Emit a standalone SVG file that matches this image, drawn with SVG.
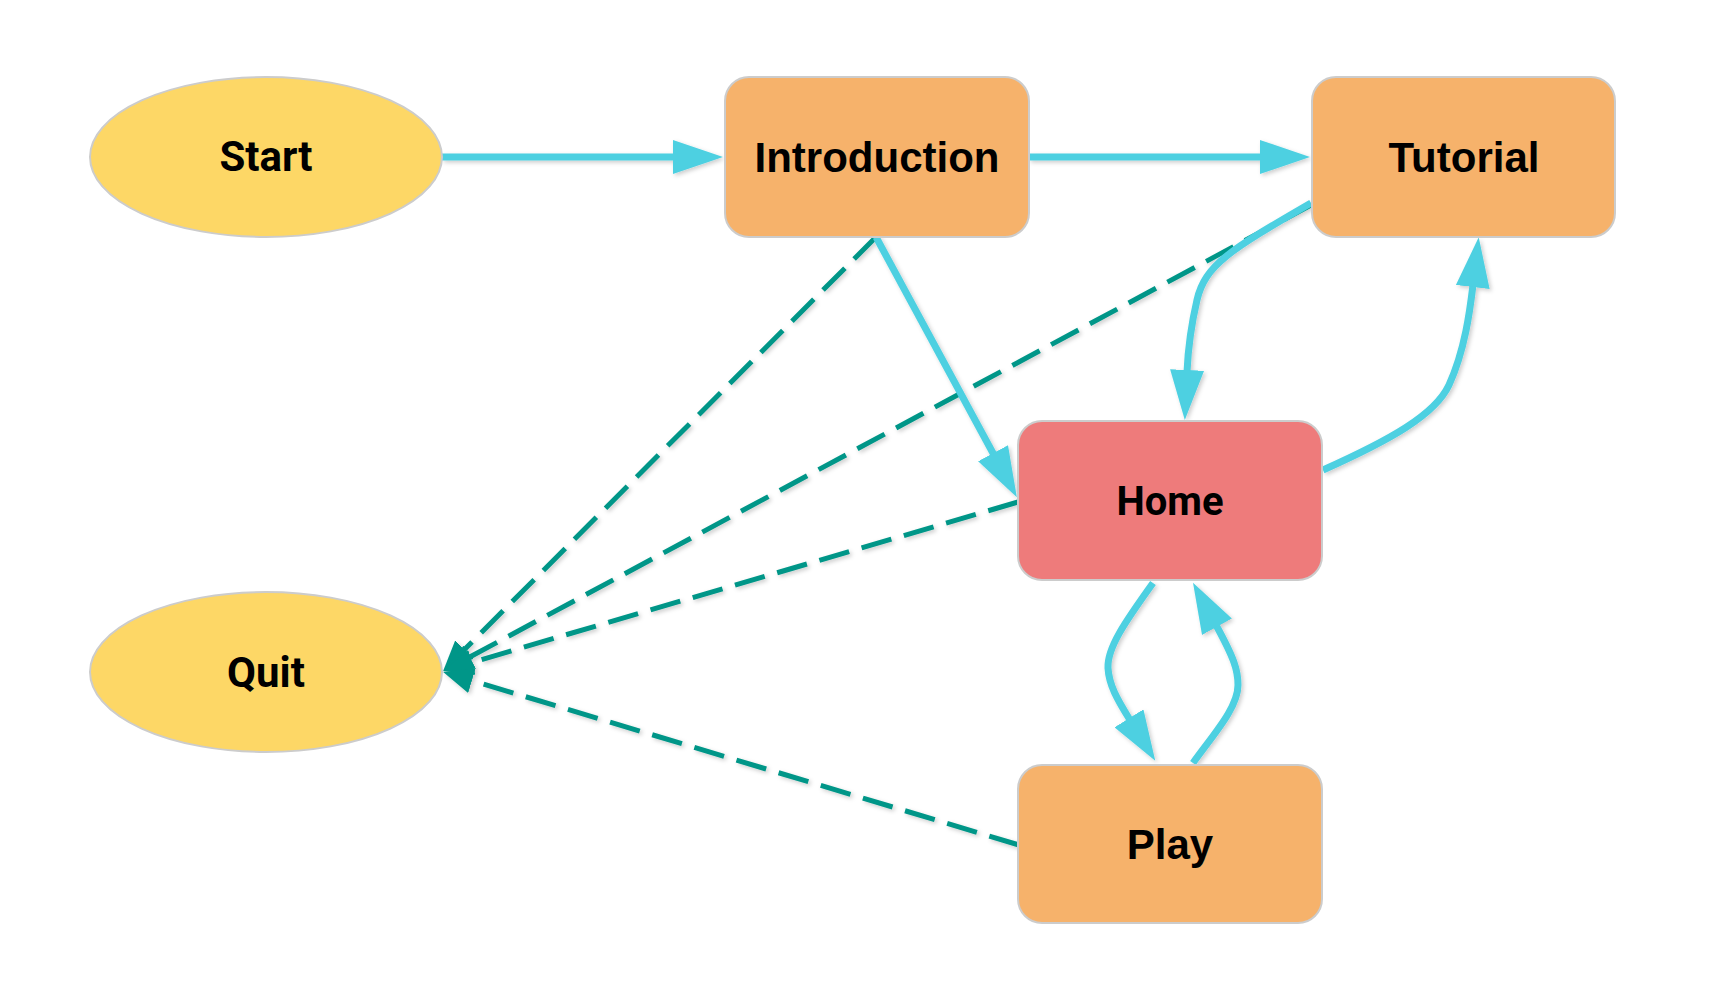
<svg xmlns="http://www.w3.org/2000/svg" width="1727" height="997" viewBox="0 0 1727 997">
<style>
.node{stroke:#CCCCCC;stroke-width:2}
.oval{fill:#FDD766}
.box{fill:#F6B26B}
.home{fill:#EE7B7B}
.t1{font-family:Roboto,"Liberation Sans",sans-serif;font-weight:bold;font-size:40px;fill:#000;text-anchor:middle}
.t3{font-family:Roboto,"Liberation Sans",sans-serif;font-weight:bold;font-size:42px;fill:#000;text-anchor:middle}
.t2{font-family:"Liberation Sans",Arial,sans-serif;font-weight:bold;font-size:42px;fill:#000;text-anchor:middle}
.solid{fill:none;stroke:#4DD0E1;stroke-width:7;marker-end:url(#ac)}
.dash{fill:none;stroke:#009688;stroke-width:5;stroke-dasharray:31 13;marker-end:url(#at)}
</style>
<defs>
<marker id="ac" markerUnits="userSpaceOnUse" markerWidth="52" markerHeight="34" refX="2" refY="17" orient="auto"><path d="M0,0 L50,17 L0,34 z" fill="#4DD0E1"/></marker>
<marker id="at" markerUnits="userSpaceOnUse" markerWidth="32" markerHeight="26" refX="2" refY="13" orient="auto"><path d="M0,0 L30,13 L0,26 z" fill="#009688"/></marker>
<filter id="sh" x="-10%" y="-10%" width="120%" height="120%"><feDropShadow dx="2" dy="2" stdDeviation="2" flood-color="#000" flood-opacity="0.2"/></filter>
</defs>
<rect width="1727" height="997" fill="#FFFFFF"/>
<g id="connectors" filter="url(#sh)">
<path class="dash" d="M876,237 L463,651"/>
<path class="dash" d="M1311,205 L468,658"/>
<path class="dash" d="M1018,502 L470,663"/>
<path class="dash" d="M1019,845 L470,680"/>
<path class="solid" d="M442,157 L675,157"/>
<path class="solid" d="M1029,157 L1262,157"/>
<path class="solid" d="M876,237 L994,455"/>
<path class="solid" d="M1311,203 C1230,250 1205,265 1197,300 C1190,330 1188,350 1187,372"/>
<path class="solid" d="M1323,470 C1390,440 1435,415 1449,385 C1465,350 1470,310 1473,285"/>
<path class="solid" d="M1153,583 C1125,622 1107,648 1108,668 C1109,685 1117,699 1130,720"/>
<path class="solid" d="M1193,763 C1213,735 1238,708 1238,685 C1238,670 1234,658 1216,625"/>
</g>
<g id="start"><ellipse class="node oval" cx="266" cy="157" rx="176" ry="80"/><text class="t3" x="266" y="171">Start</text></g>
<g id="introduction"><rect class="node box" x="725" y="77" width="304" height="160" rx="24"/><text class="t2" x="877" y="172">Introduction</text></g>
<g id="tutorial"><rect class="node box" x="1312" y="77" width="303" height="160" rx="24"/><text class="t2" x="1464" y="172">Tutorial</text></g>
<g id="home"><rect class="node home" x="1018" y="421" width="304" height="159" rx="24"/><text class="t1" x="1170" y="515">Home</text></g>
<g id="quit"><ellipse class="node oval" cx="266" cy="672" rx="176" ry="80"/><text class="t3" x="266" y="687">Quit</text></g>
<g id="play"><rect class="node box" x="1018" y="765" width="304" height="158" rx="24"/><text class="t2" x="1170" y="859">Play</text></g>
</svg>
